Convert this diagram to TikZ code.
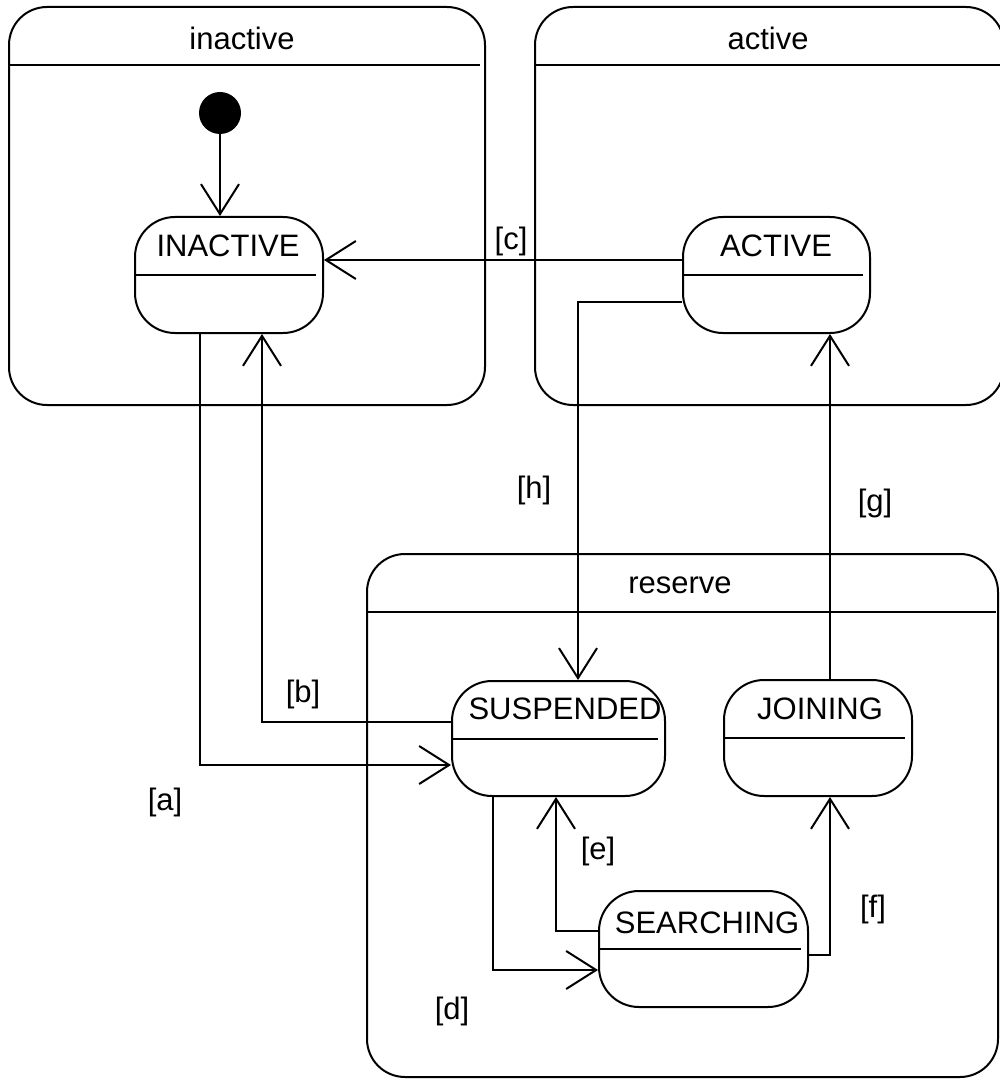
\documentclass[tikz,border=0pt]{standalone}
\usepackage{fontspec}
\setmainfont{Liberation Sans}
\usetikzlibrary{arrows.meta,calc}
\begin{document}
\begin{tikzpicture}[x=1pt,y=-1pt,
  every node/.style={font=\fontsize{31pt}{37pt}\selectfont, inner sep=0pt},
  container/.style={draw, line width=2pt, rounded corners=38pt},
  statebox/.style={draw, line width=2pt, rounded corners=40pt, minimum height=116pt},
  divider/.style={line width=2pt},
  trans/.style={line width=2pt, -{Straight Barb[length=30pt,width=38pt,line width=2pt]}}
]
\useasboundingbox (0,0) rectangle (1000,1083);

% containers
\draw[container] (9,7) rectangle (485,405);
\draw[divider] (9,65) -- (480,65);
\node (tInactive) at (242,38) {inactive};

\draw[container] (535,7) rectangle (1004,405);
\draw[divider] (535,65) -- (1000,65);
\node (tActive) at (768,38) {active};

\draw[container] (367,554) rectangle (998,1077);
\draw[divider] (367,612) -- (996,612);
\node (tReserve) at (680,585) {reserve};

% initial pseudo-state
\node[circle, fill=black, minimum size=42pt] (init) at (220,113) {};

% states
\node[statebox, minimum width=188pt] (inactiveS) at (229,275) {};
\draw[divider] (inactiveS.west) -- ++(182,0);
\node (lInactive) at (228,246) {INACTIVE};

\node[statebox, minimum width=187pt] (activeS) at (776.5,275) {};
\draw[divider] (activeS.west) -- ++(181,0);
\node (lActive) at (776,246) {ACTIVE};

\node[statebox, minimum width=213pt, minimum height=115pt] (suspS) at (558.5,738.5) {};
\draw[divider] (suspS.west) -- ++(207,0);
\node (lSusp) at (565,709) {SUSPENDED};

\node[statebox, minimum width=188pt] (joinS) at (818,738) {};
\draw[divider] (joinS.west) -- ++(182,0);
\node (lJoin) at (820,709) {JOINING};

\node[statebox, minimum width=209pt] (searchS) at (703.5,949) {};
\draw[divider] (searchS.west) -- ++(203,0);
\node (lSearch) at (707,923) {SEARCHING};

% helper coordinates for vertical runs
\coordinate (ax) at (200,0);
\coordinate (bx) at (262,0);
\coordinate (dx) at (493,0);
\coordinate (ex) at (556,0);
\coordinate (fx) at (830,0);
\coordinate (hx) at (578,0);

% transitions
\draw[trans] (init.south) -- (init.south |- inactiveS.north);
\draw[trans] ([yshift=15pt]activeS.west) -- ([yshift=15pt]inactiveS.east);
\draw[trans] ([yshift=-27pt]activeS.west) -| (suspS.north -| hx);
\draw[trans] (joinS.north -| fx) -- (activeS.south -| fx);
\draw[trans] (inactiveS.south -| ax) |- ([yshift=-26.5pt]suspS.west);
\draw[trans] ([yshift=16.5pt]suspS.west) -| (inactiveS.south -| bx);
\draw[trans] (suspS.south -| dx) |- ([yshift=-21pt]searchS.west);
\draw[trans] ([yshift=18pt]searchS.west) -| (suspS.south -| ex);
\draw[trans] ([yshift=-6pt]searchS.east) -| (joinS.south -| fx);

% guard labels
\node (ga) at (165,802) {[a]};
\node (gb) at (303,694) {[b]};
\node (gc) at (511,241) {[c]};
\node (gd) at (452,1011) {[d]};
\node (ge) at (598,851) {[e]};
\node (gf) at (873,909) {[f]};
\node (gg) at (875,503) {[g]};
\node (gh) at (534,490) {[h]};
\end{tikzpicture}
\end{document}
